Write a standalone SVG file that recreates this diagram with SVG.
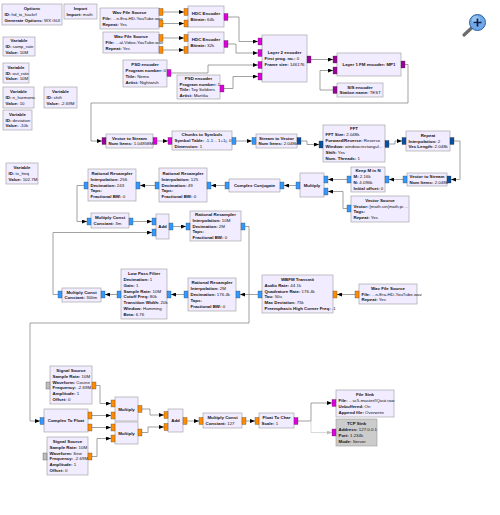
<svg xmlns="http://www.w3.org/2000/svg" width="500" height="515" viewBox="0 0 500 515">
<style>
.b{fill:#F1ECFF;stroke:#9a9a9a;stroke-width:0.6}
.d{fill:#CCCCCC;stroke:#9a9a9a;stroke-width:0.6}
text{font-family:"Liberation Sans",Arial,sans-serif;font-size:4.4px;fill:#111}
.t{font-weight:bold;text-anchor:middle}
.k{font-weight:bold}
.po,.pm,.pv,.pc,.pd,.pg{stroke:#333;stroke-width:0.3}
.po{fill:#FF8C00}.pm{fill:#DD00DD}.pv{fill:#990099}.pc{fill:#3399FF}.pd{fill:#0A50A0}.pg{fill:#BDBDBD}
.c{fill:none;stroke:#7a7a7a;stroke-width:0.7;marker-end:url(#a)}
.cx{fill:none;stroke:#c8c8c8;stroke-width:0.7;marker-end:url(#a2)}
</style>
<defs>
<marker id="a" viewBox="0 0 5 4" refX="5" refY="2" markerWidth="5" markerHeight="4" markerUnits="userSpaceOnUse" orient="auto"><path d="M0,0 L5,2 L0,4 z" fill="#000"/></marker>
<marker id="a2" viewBox="0 0 5 4" refX="5" refY="2" markerWidth="5" markerHeight="4" markerUnits="userSpaceOnUse" orient="auto"><path d="M0,0 L5,2 L0,4 z" fill="#bbb"/></marker>
</defs>
<rect width="500" height="515" fill="#fff"/>
<g id="connectors">
<path class="c" d="M163,12 H184"/>
<path class="c" d="M163,23.5 H184"/>
<path class="c" d="M163,38 H184"/>
<path class="c" d="M163,50 H184"/>
<path class="c" d="M228,17 H239 V41.5 H258"/>
<path class="c" d="M228,44 H236 V53 H258"/>
<path class="c" d="M171,73 H208 V65 H258"/>
<path class="c" d="M224,88.5 H233 V76.5 H258"/>
<path class="c" d="M311,59.5 H333"/>
<path class="c" d="M333,90 H320 V70.5 H333"/>
<path class="c" d="M405,64.5 H408 V103 H91 V141 H102"/>
<path class="c" d="M157,141 H168"/>
<path class="c" d="M236,141 H252"/>
<path class="c" d="M301,141 H307 V144.5 H319"/>
<path class="c" d="M389,144 H395 V141 H402"/>
<path class="c" d="M454,141 H460 V179.5 H451"/>
<path class="c" d="M403,179.5 H389"/>
<path class="c" d="M347,179.5 H328"/>
<path class="c" d="M347,208.5 H343 V191.5 H328"/>
<path class="c" d="M296,185.5 H284"/>
<path class="c" d="M225,185.5 H211"/>
<path class="c" d="M155,185.5 H140"/>
<path class="c" d="M84,185.5 H77 V221.5 H87"/>
<path class="c" d="M133,221.5 H152"/>
<path class="c" d="M173,226.5 H186"/>
<path class="c" d="M245,226.5 H249 V323 H30 V421 H40"/>
<path class="c" d="M355,294.5 H337"/>
<path class="c" d="M258,294.5 H240"/>
<path class="c" d="M184,294.5 H171"/>
<path class="c" d="M117,294.5 H105"/>
<path class="c" d="M58,294.5 H53 V232.5 H152"/>
<path class="c" d="M96,385.5 H100 V403.5 H111"/>
<path class="c" d="M92,415.5 H111"/>
<path class="c" d="M92,427.5 H111"/>
<path class="c" d="M92,456.5 H97 V438.5 H111"/>
<path class="c" d="M142,409 H150 V415 H164"/>
<path class="c" d="M142,432.5 H148 V427 H164"/>
<path class="c" d="M187,421 H199"/>
<path class="c" d="M246,421 H255"/>
<path class="c" d="M298,421 H311 V403 H332"/>
<path class="cx" d="M311,421 V432.5 H332"/>
</g>

<g id="options"><rect class="b" x="2" y="4" width="60" height="21"/>
<text class="t" x="32" y="10.1">Options</text>
<text x="4.5" y="16"><tspan class="k">ID:</tspan> hd_tx_hackrf</text>
<text x="4.5" y="21.9"><tspan class="k">Generate Options:</tspan> WX GUI</text></g>

<g id="import"><rect class="b" x="64" y="4" width="33" height="15"/>
<text class="t" x="80.5" y="10.05">Import</text>
<text x="66.5" y="15.95"><tspan class="k">Import:</tspan> math</text></g>

<g id="var_samp_rate"><rect class="b" x="3" y="37" width="32" height="19"/>
<text class="t" x="19" y="42.1">Variable</text>
<text x="5.5" y="48"><tspan class="k">ID:</tspan> samp_rate</text>
<text x="5.5" y="53.9"><tspan class="k">Value:</tspan> 10M</text></g>

<g id="var_out_rate"><rect class="b" x="3" y="63" width="26" height="20"/>
<text class="t" x="16" y="68.6">Variable</text>
<text x="5.5" y="74.5"><tspan class="k">ID:</tspan> out_rate</text>
<text x="5.5" y="80.4"><tspan class="k">Value:</tspan> 10M</text></g>

<g id="var_n_harmonic"><rect class="b" x="3" y="87" width="31" height="21"/>
<text class="t" x="18.5" y="93.1">Variable</text>
<text x="5.5" y="99"><tspan class="k">ID:</tspan> n_harmonic</text>
<text x="5.5" y="104.9"><tspan class="k">Value:</tspan> 10</text></g>

<g id="var_shift"><rect class="b" x="44" y="87" width="33" height="21"/>
<text class="t" x="60.5" y="93.1">Variable</text>
<text x="46.5" y="99"><tspan class="k">ID:</tspan> shift</text>
<text x="46.5" y="104.9"><tspan class="k">Value:</tspan> -2.69M</text></g>

<g id="var_deviation"><rect class="b" x="3" y="110" width="29" height="20"/>
<text class="t" x="17.5" y="115.6">Variable</text>
<text x="5.5" y="121.5"><tspan class="k">ID:</tspan> deviation</text>
<text x="5.5" y="127.4"><tspan class="k">Value:</tspan> -10k</text></g>

<g id="var_tx_freq"><rect class="b" x="6" y="163" width="32" height="21"/>
<text class="t" x="22" y="169.1">Variable</text>
<text x="8.5" y="175"><tspan class="k">ID:</tspan> tx_freq</text>
<text x="8.5" y="180.9"><tspan class="k">Value:</tspan> 102.7M</text></g>

<g id="wav1"><rect class="b" x="100" y="8" width="59" height="21"/>
<text class="t" x="129.5" y="14.1">Wav File Source</text>
<text x="102.5" y="20"><tspan class="k">File:</tspan> ...n-Era-HD-YouTube.wav</text>
<text x="102.5" y="25.9"><tspan class="k">Repeat:</tspan> Yes</text>
<rect class="po" x="159" y="8.5" width="4" height="7"/><rect class="po" x="159" y="20" width="4" height="7"/></g>

<g id="wav2"><rect class="b" x="103" y="32" width="56" height="21"/>
<text class="t" x="131" y="38.1">Wav File Source</text>
<text x="105.5" y="44"><tspan class="k">File:</tspan> ...al-Video-YouTube.wav</text>
<text x="105.5" y="49.9"><tspan class="k">Repeat:</tspan> Yes</text>
<rect class="po" x="159" y="34.5" width="4" height="7"/><rect class="po" x="159" y="46.5" width="4" height="7"/></g>

<g id="hdc1"><rect class="b" x="188" y="6" width="36" height="21"/>
<text class="t" x="206" y="15.05">HDC Encoder</text>
<text x="190.5" y="20.95"><tspan class="k">Bitrate:</tspan> 64k</text>
<rect class="po" x="184" y="8.5" width="4" height="7"/><rect class="po" x="184" y="20" width="4" height="7"/>
<rect class="pm" x="224" y="13.5" width="4" height="7"/></g>

<g id="hdc2"><rect class="b" x="188" y="32" width="36" height="21"/>
<text class="t" x="206" y="41.05">HDC Encoder</text>
<text x="190.5" y="46.95"><tspan class="k">Bitrate:</tspan> 32k</text>
<rect class="po" x="184" y="34.5" width="4" height="7"/><rect class="po" x="184" y="46.5" width="4" height="7"/>
<rect class="pm" x="224" y="40.5" width="4" height="7"/></g>

<g id="psd1"><rect class="b" x="123" y="60" width="44" height="27"/>
<text class="t" x="145" y="66.15">PSD encoder</text>
<text x="125.5" y="72.05"><tspan class="k">Program number:</tspan> 0</text>
<text x="125.5" y="77.95"><tspan class="k">Title:</tspan> Nemo</text>
<text x="125.5" y="83.85"><tspan class="k">Artist:</tspan> Nightwish</text>
<rect class="pm" x="167" y="69.5" width="4" height="7"/></g>

<g id="psd2"><rect class="b" x="177" y="75" width="43" height="24"/>
<text class="t" x="198.5" y="79.65">PSD encoder</text>
<text x="179.5" y="85.55"><tspan class="k">Program number:</tspan> 1</text>
<text x="179.5" y="91.45"><tspan class="k">Title:</tspan> Toy Soldiers</text>
<text x="179.5" y="97.35"><tspan class="k">Artist:</tspan> Martika</text>
<rect class="pm" x="220" y="85" width="4" height="7"/></g>

<g id="layer2"><rect class="b" x="262" y="35" width="45" height="47"/>
<text class="t" x="284.5" y="54.1">Layer 2 encoder</text>
<text x="264.5" y="60"><tspan class="k">First prog. no.:</tspan> 0</text>
<text x="264.5" y="65.9"><tspan class="k">Frame size:</tspan> 146176</text>
<rect class="pm" x="258" y="38" width="4" height="7"/><rect class="pm" x="258" y="49.5" width="4" height="7"/>
<rect class="pm" x="258" y="61.5" width="4" height="7"/><rect class="pm" x="258" y="73" width="4" height="7"/>
<rect class="pv" x="307" y="56" width="4" height="7"/></g>

<g id="layer1"><rect class="b" x="337" y="53" width="64" height="23"/>
<text class="t" x="369" y="66">Layer 1 FM encoder: MP1</text>
<rect class="pv" x="333" y="56" width="4" height="7"/><rect class="pv" x="333" y="67" width="4" height="7"/>
<rect class="pv" x="401" y="61" width="4" height="7"/></g>

<g id="sis"><rect class="b" x="337" y="83" width="46" height="14"/>
<text class="t" x="360" y="88.55">SIS encoder</text>
<text x="339.5" y="94.45"><tspan class="k">Station name:</tspan> TEST</text>
<rect class="pv" x="333" y="86.5" width="4" height="7"/></g>

<g id="vts1"><rect class="b" x="106" y="134" width="47" height="14"/>
<text class="t" x="129.5" y="139.55">Vector to Stream</text>
<text x="108.5" y="145.45"><tspan class="k">Num Items:</tspan> 1.04858M</text>
<rect class="pv" x="102" y="137.5" width="4" height="7"/><rect class="pm" x="153" y="137.5" width="4" height="7"/></g>

<g id="c2s"><rect class="b" x="172" y="131" width="60" height="19"/>
<text class="t" x="202" y="136.1">Chunks to Symbols</text>
<text x="174.5" y="142"><tspan class="k">Symbol Table:</tspan> -1-1... 1+1j, 0</text>
<text x="174.5" y="147.9"><tspan class="k">Dimension:</tspan> 1</text>
<rect class="pm" x="168" y="137.5" width="4" height="7"/><rect class="pc" x="232" y="137.5" width="4" height="7"/></g>

<g id="s2v"><rect class="b" x="256" y="134" width="41" height="14"/>
<text class="t" x="276.5" y="139.55">Stream to Vector</text>
<text x="258.5" y="145.45"><tspan class="k">Num Items:</tspan> 2.048k</text>
<rect class="pc" x="252" y="137.5" width="4" height="7"/><rect class="pd" x="297" y="137.5" width="4" height="7"/></g>

<g id="fft"><rect class="b" x="323" y="125" width="62" height="37"/>
<text class="t" x="354" y="130.25">FFT</text>
<text x="325.5" y="136.15"><tspan class="k">FFT Size:</tspan> 2.048k</text>
<text x="325.5" y="142.05"><tspan class="k">Forward/Reverse:</tspan> Reverse</text>
<text x="325.5" y="147.95"><tspan class="k">Window:</tspan> window.rectangul...</text>
<text x="325.5" y="153.85"><tspan class="k">Shift:</tspan> Yes</text>
<text x="325.5" y="159.75"><tspan class="k">Num. Threads:</tspan> 1</text>
<rect class="pd" x="319" y="141" width="4" height="7"/><rect class="pd" x="385" y="140.5" width="4" height="7"/></g>

<g id="repeat"><rect class="b" x="406" y="131" width="44" height="20"/>
<text class="t" x="428" y="136.6">Repeat</text>
<text x="408.5" y="142.5"><tspan class="k">Interpolation:</tspan> 2</text>
<text x="408.5" y="148.4"><tspan class="k">Vec Length:</tspan> 2.048k</text>
<rect class="pd" x="402" y="137.5" width="4" height="7"/><rect class="pd" x="450" y="137.5" width="4" height="7"/></g>

<g id="vts2"><rect class="b" x="407" y="173" width="40" height="13"/>
<text class="t" x="427" y="178.05">Vector to Stream</text>
<text x="409.5" y="183.95"><tspan class="k">Num Items:</tspan> 2.048k</text>
<rect class="pd" x="447" y="176" width="4" height="7"/><rect class="pc" x="403" y="176" width="4" height="7"/></g>

<g id="keep_m_in_n"><rect class="b" x="351" y="167" width="34" height="25"/>
<text class="t" x="368" y="172.15">Keep M in N</text>
<text x="353.5" y="178.05"><tspan class="k">M:</tspan> 2.16k</text>
<text x="353.5" y="183.95"><tspan class="k">N:</tspan> 4.096k</text>
<text x="353.5" y="189.85"><tspan class="k">Initial offset:</tspan> 0</text>
<rect class="pc" x="385" y="176" width="4" height="7"/><rect class="pc" x="347" y="176" width="4" height="7"/></g>

<g id="multiply1"><rect class="b" x="300" y="173" width="24" height="24"/>
<text class="t" x="312" y="186.5">Multiply</text>
<rect class="pc" x="324" y="176" width="4" height="7"/><rect class="pc" x="324" y="188" width="4" height="7"/>
<rect class="pc" x="296" y="182" width="4" height="7"/></g>

<g id="vector_source"><rect class="b" x="351" y="196" width="58" height="26"/>
<text class="t" x="380" y="201.65">Vector Source</text>
<text x="353.5" y="207.55"><tspan class="k">Vector:</tspan> [math.sin(math.pi ...</text>
<text x="353.5" y="213.45"><tspan class="k">Tags:</tspan></text>
<text x="353.5" y="219.35"><tspan class="k">Repeat:</tspan> Yes</text>
<rect class="pc" x="347" y="205" width="4" height="7"/></g>

<g id="complex_conjugate"><rect class="b" x="229" y="179" width="51" height="13"/>
<text class="t" x="254.5" y="187">Complex Conjugate</text>
<rect class="pc" x="280" y="182" width="4" height="7"/><rect class="pc" x="225" y="182" width="4" height="7"/></g>

<g id="rr2"><rect class="b" x="159" y="168" width="48" height="34"/>
<text class="t" x="183" y="174.7">Rational Resampler</text>
<text x="161.5" y="180.6"><tspan class="k">Interpolation:</tspan> 125</text>
<text x="161.5" y="186.5"><tspan class="k">Decimation:</tspan> 49</text>
<text x="161.5" y="192.4"><tspan class="k">Taps:</tspan></text>
<text x="161.5" y="198.3"><tspan class="k">Fractional BW:</tspan> 0</text>
<rect class="pc" x="207" y="182" width="4" height="7"/><rect class="pc" x="155" y="182" width="4" height="7"/></g>

<g id="rr1"><rect class="b" x="88" y="169" width="48" height="32"/>
<text class="t" x="112" y="174.7">Rational Resampler</text>
<text x="90.5" y="180.6"><tspan class="k">Interpolation:</tspan> 256</text>
<text x="90.5" y="186.5"><tspan class="k">Decimation:</tspan> 243</text>
<text x="90.5" y="192.4"><tspan class="k">Taps:</tspan></text>
<text x="90.5" y="198.3"><tspan class="k">Fractional BW:</tspan> 0</text>
<rect class="pc" x="136" y="182" width="4" height="7"/><rect class="pc" x="84" y="182" width="4" height="7"/></g>

<g id="multiply_const1"><rect class="b" x="91" y="213" width="38" height="15"/>
<text class="t" x="110" y="219.05">Multiply Const</text>
<text x="93.5" y="224.95"><tspan class="k">Constant:</tspan> 3m</text>
<rect class="pc" x="87" y="218" width="4" height="7"/><rect class="pc" x="129" y="218" width="4" height="7"/></g>

<g id="add1"><rect class="b" x="156" y="214" width="13" height="25"/>
<text class="t" x="162.5" y="228">Add</text>
<rect class="pc" x="152" y="218" width="4" height="7"/><rect class="pc" x="152" y="229" width="4" height="7"/>
<rect class="pc" x="169" y="223" width="4" height="7"/></g>

<g id="rr_10m"><rect class="b" x="190" y="211" width="51" height="30"/>
<text class="t" x="215.5" y="215.7">Rational Resampler</text>
<text x="192.5" y="221.6"><tspan class="k">Interpolation:</tspan> 10M</text>
<text x="192.5" y="227.5"><tspan class="k">Decimation:</tspan> 2M</text>
<text x="192.5" y="233.4"><tspan class="k">Taps:</tspan></text>
<text x="192.5" y="239.3"><tspan class="k">Fractional BW:</tspan> 0</text>
<rect class="pc" x="186" y="223" width="4" height="7"/><rect class="pc" x="241" y="223" width="4" height="7"/></g>

<g id="low_pass_filter"><rect class="b" x="121" y="269" width="46" height="50"/>
<text class="t" x="144" y="274.85">Low Pass Filter</text>
<text x="123.5" y="280.75"><tspan class="k">Decimation:</tspan> 1</text>
<text x="123.5" y="286.65"><tspan class="k">Gain:</tspan> 1</text>
<text x="123.5" y="292.55"><tspan class="k">Sample Rate:</tspan> 10M</text>
<text x="123.5" y="298.45"><tspan class="k">Cutoff Freq:</tspan> 80k</text>
<text x="123.5" y="304.35"><tspan class="k">Transition Width:</tspan> 20k</text>
<text x="123.5" y="310.25"><tspan class="k">Window:</tspan> Hamming</text>
<text x="123.5" y="316.15"><tspan class="k">Beta:</tspan> 6.76</text>
<rect class="pc" x="167" y="291" width="4" height="7"/><rect class="pc" x="117" y="291" width="4" height="7"/></g>

<g id="multiply_const2"><rect class="b" x="62" y="288" width="39" height="14"/>
<text class="t" x="81.5" y="293.55">Multiply Const</text>
<text x="64.5" y="299.45"><tspan class="k">Constant:</tspan> 300m</text>
<rect class="pc" x="101" y="291" width="4" height="7"/><rect class="pc" x="58" y="291" width="4" height="7"/></g>

<g id="rr3"><rect class="b" x="188" y="278" width="48" height="33"/>
<text class="t" x="212" y="284.2">Rational Resampler</text>
<text x="190.5" y="290.1"><tspan class="k">Interpolation:</tspan> 2M</text>
<text x="190.5" y="296"><tspan class="k">Decimation:</tspan> 176.4k</text>
<text x="190.5" y="301.9"><tspan class="k">Taps:</tspan></text>
<text x="190.5" y="307.8"><tspan class="k">Fractional BW:</tspan> 0</text>
<rect class="pc" x="236" y="291" width="4" height="7"/><rect class="pc" x="184" y="291" width="4" height="7"/></g>

<g id="wbfm_transmit"><rect class="b" x="262" y="275" width="71" height="38"/>
<text class="t" x="297.5" y="280.75">WBFM Transmit</text>
<text x="264.5" y="286.65"><tspan class="k">Audio Rate:</tspan> 44.1k</text>
<text x="264.5" y="292.55"><tspan class="k">Quadrature Rate:</tspan> 176.4k</text>
<text x="264.5" y="298.45"><tspan class="k">Tau:</tspan> 50u</text>
<text x="264.5" y="304.35"><tspan class="k">Max Deviation:</tspan> 75k</text>
<text x="264.5" y="310.25"><tspan class="k">Preemphasis High Corner Freq:</tspan> -1</text>
<rect class="po" x="333" y="291" width="4" height="7"/><rect class="pc" x="258" y="291" width="4" height="7"/></g>

<g id="wav3"><rect class="b" x="359" y="284" width="58" height="20"/>
<text class="t" x="388" y="289.6">Wav File Source</text>
<text x="361.5" y="295.5"><tspan class="k">File:</tspan> ...n-Era-HD-YouTube.wav</text>
<text x="361.5" y="301.4"><tspan class="k">Repeat:</tspan> Yes</text>
<rect class="po" x="355" y="291" width="4" height="7"/></g>

<g id="signal_source1"><rect class="b" x="50" y="366" width="42" height="38"/>
<text class="t" x="71" y="371.75">Signal Source</text>
<text x="52.5" y="377.65"><tspan class="k">Sample Rate:</tspan> 10M</text>
<text x="52.5" y="383.55"><tspan class="k">Waveform:</tspan> Cosine</text>
<text x="52.5" y="389.45"><tspan class="k">Frequency:</tspan> -2.69M</text>
<text x="52.5" y="395.35"><tspan class="k">Amplitude:</tspan> 1</text>
<text x="52.5" y="401.25"><tspan class="k">Offset:</tspan> 0</text>
<rect class="pg" x="46" y="382" width="4" height="7"/><rect class="po" x="92" y="382" width="4" height="7"/></g>

<g id="complex_to_float"><rect class="b" x="44" y="409" width="44" height="23"/>
<text class="t" x="66" y="422">Complex To Float</text>
<rect class="pc" x="40" y="417.5" width="4" height="7"/>
<rect class="po" x="88" y="412" width="4" height="7"/><rect class="po" x="88" y="424" width="4" height="7"/></g>

<g id="signal_source2"><rect class="b" x="47" y="437" width="41" height="38"/>
<text class="t" x="67.5" y="442.75">Signal Source</text>
<text x="49.5" y="448.65"><tspan class="k">Sample Rate:</tspan> 10M</text>
<text x="49.5" y="454.55"><tspan class="k">Waveform:</tspan> Sine</text>
<text x="49.5" y="460.45"><tspan class="k">Frequency:</tspan> -2.69M</text>
<text x="49.5" y="466.35"><tspan class="k">Amplitude:</tspan> 1</text>
<text x="49.5" y="472.25"><tspan class="k">Offset:</tspan> 0</text>
<rect class="pg" x="43" y="453" width="4" height="7"/><rect class="po" x="88" y="453" width="4" height="7"/></g>

<g id="multiply_a"><rect class="b" x="115" y="397" width="23" height="24"/>
<text class="t" x="126.5" y="410.5">Multiply</text>
<rect class="po" x="111" y="400" width="4" height="7"/><rect class="po" x="111" y="412" width="4" height="7"/>
<rect class="po" x="138" y="405.5" width="4" height="7"/></g>

<g id="multiply_b"><rect class="b" x="115" y="422" width="23" height="22"/>
<text class="t" x="126.5" y="434.5">Multiply</text>
<rect class="po" x="111" y="424" width="4" height="7"/><rect class="po" x="111" y="435" width="4" height="7"/>
<rect class="po" x="138" y="429" width="4" height="7"/></g>

<g id="add2"><rect class="b" x="168" y="409" width="15" height="23"/>
<text class="t" x="175.5" y="422">Add</text>
<rect class="po" x="164" y="411.5" width="4" height="7"/><rect class="po" x="164" y="423.5" width="4" height="7"/>
<rect class="po" x="183" y="417.5" width="4" height="7"/></g>

<g id="multiply_const3"><rect class="b" x="203" y="413" width="39" height="15"/>
<text class="t" x="222.5" y="419.05">Multiply Const</text>
<text x="205.5" y="424.95"><tspan class="k">Constant:</tspan> 127</text>
<rect class="po" x="199" y="417.5" width="4" height="7"/><rect class="po" x="242" y="417.5" width="4" height="7"/></g>

<g id="float_to_char"><rect class="b" x="259" y="413" width="35" height="15"/>
<text class="t" x="276.5" y="419.05">Float To Char</text>
<text x="261.5" y="424.95"><tspan class="k">Scale:</tspan> 1</text>
<rect class="po" x="255" y="417.5" width="4" height="7"/><rect class="pm" x="294" y="417.5" width="4" height="7"/></g>

<g id="file_sink"><rect class="b" x="336" y="390" width="58" height="27"/>
<text class="t" x="365" y="396.15">File Sink</text>
<text x="338.5" y="402.05"><tspan class="k">File:</tspan> ...sc5-master/IQout.raw</text>
<text x="338.5" y="407.95"><tspan class="k">Unbuffered:</tspan> On</text>
<text x="338.5" y="413.85"><tspan class="k">Append file:</tspan> Overwrite</text>
<rect class="pm" x="332" y="399.5" width="4" height="7"/></g>

<g id="tcp_sink"><rect class="d" x="336" y="419" width="41" height="27"/>
<text class="t" x="356.5" y="425.15">TCP Sink</text>
<text x="338.5" y="431.05"><tspan class="k">Address:</tspan> 127.0.0.1</text>
<text x="338.5" y="436.95"><tspan class="k">Port:</tspan> 1.234k</text>
<text x="338.5" y="442.85"><tspan class="k">Mode:</tspan> Server</text>
<rect class="pm" x="332" y="429" width="4" height="7"/></g>

<g id="zoom_icon">
<line x1="471" y1="28.5" x2="464" y2="35" stroke="#6b6b6b" stroke-width="3.2" stroke-linecap="round"/>
<circle cx="477.5" cy="22.5" r="8" fill="#6fa8e8" stroke="#2f5f9f" stroke-width="1"/>
<circle cx="476" cy="20" r="4" fill="#a9cdf5" opacity="0.7"/>
<path d="M473.5,22.5 H481.5 M477.5,18.5 V26.5" stroke="#0b1f4a" stroke-width="1.7"/>
</g>
</svg>
